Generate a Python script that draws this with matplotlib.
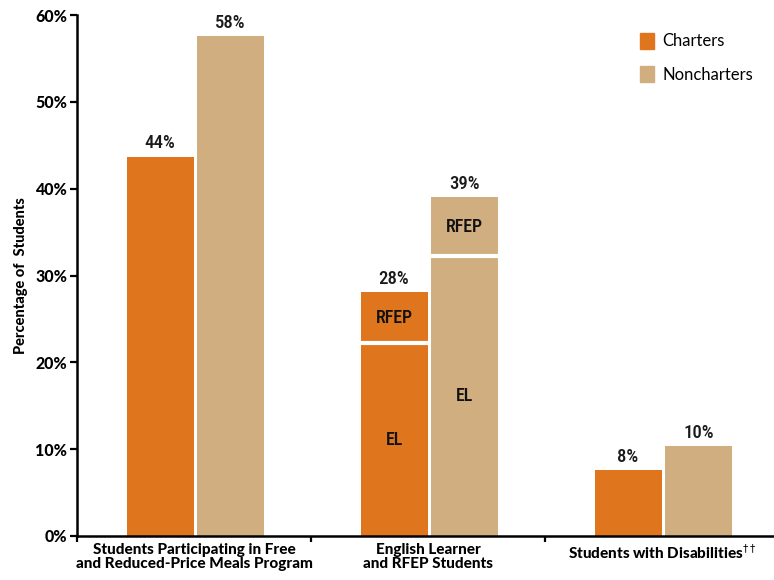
import matplotlib
matplotlib.use("Agg")
import matplotlib.pyplot as plt
from matplotlib.patches import Patch
import numpy as np

# Data
categories = ["Students Participating in Free\nand Reduced-Price Meals Program",
              "English Learner\nand RFEP Students",
              "Students with Disabilities$^{\\dagger\\dagger}$"]
charter_main = [43.7, 22.2, 7.6]      # meals, EL, disabilities
charter_rfep = [0.0, 5.9, 0.0]
nonch_main = [57.6, 32.2, 10.4]
nonch_rfep = [0.0, 6.8, 0.0]
yticks = [0, 10, 20, 30, 40, 50, 60]
ytick_labels = ["0%", "10%", "20%", "30%", "40%", "50%", "60%"]
series_names = ["Charters", "Noncharters"]

C_ORANGE = "#DF761E"
C_TAN = "#D0AE80"

main_font = ["Lato", "DejaVu Sans"]
narrow_font = ["Roboto Condensed", "DejaVu Sans"]

fig = plt.figure(figsize=(7.74, 5.8), dpi=100)
ax = fig.add_axes([77 / 774, 44 / 580, 702 / 774, 521 / 580])

centers = np.arange(len(categories)) + 0.5
width = 0.286
off = width / 2 + 0.008

xc = centers - off + 0.006
xn = centers + off + 0.006
ax.bar(xc, charter_main, width, color=C_ORANGE, zorder=2)
ax.bar(xc, charter_rfep, width, bottom=charter_main, color=C_ORANGE, zorder=2)
ax.bar(xn, nonch_main, width, color=C_TAN, zorder=2)
ax.bar(xn, nonch_rfep, width, bottom=nonch_main, color=C_TAN, zorder=2)

for i in range(len(categories)):
    for x, base, extra in ((xc[i], charter_main[i], charter_rfep[i]),
                           (xn[i], nonch_main[i], nonch_rfep[i])):
        total = base + extra
        ax.annotate(f"{total:.0f}%", (x, total), xytext=(0, 3),
                    textcoords="offset points", ha="center", va="bottom",
                    fontsize=13.5, family=narrow_font, fontweight=500,
                    color="#1a1a1a")
        if extra > 0:
            ax.hlines(base, x - width / 2, x + width / 2, colors="white",
                      linewidth=3, zorder=3)
            ax.text(x, base + extra / 2, "RFEP", ha="center", va="center",
                    fontsize=13, family=narrow_font, fontweight=500,
                    color="#111111", zorder=4)
            ax.text(x, base / 2, "EL", ha="center", va="center",
                    fontsize=13, family=narrow_font, fontweight=500,
                    color="#111111", zorder=4)

ax.set_xlim(0, 3)
ax.set_ylim(0, 60)
ax.set_yticks(yticks)
ax.set_yticklabels(ytick_labels, fontsize=11.5, fontweight="black", family=main_font)
ax.set_xticks([0, 1, 2])
ax.set_xticklabels([])
ax.set_xticks(centers, minor=True)
ax.set_xticklabels(categories, minor=True, fontsize=11, fontweight="black",
                   family=main_font, linespacing=1.0)
ax.tick_params(axis="x", which="minor", length=0, pad=5)
ax.tick_params(axis="x", which="major", length=4, width=1.6, direction="out")
ax.tick_params(axis="y", length=5, width=1.6, direction="out", pad=2)

for s in ("top", "right"):
    ax.spines[s].set_visible(False)
for s in ("left", "bottom"):
    ax.spines[s].set_linewidth(1.8)
    ax.spines[s].set_color("black")

ax.set_ylabel("Percentage of  Students", fontsize=10.5, fontweight="black",
              family=main_font, labelpad=5)

handles = [Patch(color=C_ORANGE), Patch(color=C_TAN)]
leg = ax.legend(handles, series_names, loc="upper right", frameon=False,
                bbox_to_anchor=(0.985, 0.995), handlelength=0.85, handleheight=1.1,
                labelspacing=1.0, handletextpad=0.5,
                prop={"family": main_font, "size": 12})

fig.savefig("out.png", dpi=100)
